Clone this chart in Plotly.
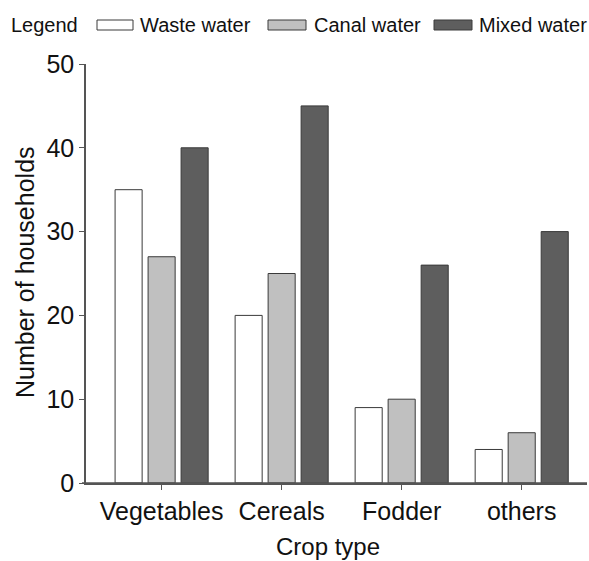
import plotly.graph_objects as go

categories = ["Vegetables", "Cereals", "Fodder", "others"]
series_names = ["Waste water", "Canal water", "Mixed water"]
waste_water = [35, 20, 9, 4]
canal_water = [27, 25, 10, 6]
mixed_water = [40, 45, 26, 30]
y_ticks = [0, 10, 20, 30, 40, 50]

series_values = [waste_water, canal_water, mixed_water]
fills = ["#ffffff", "#c0c0c0", "#5e5e5e"]
FONT = "Liberation Sans, Arial, sans-serif"

W, H = 589, 561
L, R, T, B = 86, 2, 64, 78
pw, ph = W - L - R, H - T - B


def px_x(x):
    return (x - L) / pw


def px_y(y):
    return (H - B - y) / ph


fig = go.Figure()
for name, vals, col in zip(series_names, series_values, fills):
    fig.add_trace(go.Bar(
        x=categories, y=vals, name=name,
        marker=dict(color=col, line=dict(color="#3a3a3a", width=1)),
        showlegend=False,
    ))

shapes = []
annotations = []
# legend
annotations.append(dict(text="Legend", x=px_x(9), y=px_y(25), xref="paper", yref="paper",
                        xanchor="left", yanchor="middle", showarrow=False,
                        font=dict(size=20, color="#111", family=FONT)))
box_x = [(97, 133), (268, 306), (434, 472)]
text_x = [138, 312, 477]
for (x0, x1), tx, name, col in zip(box_x, text_x, series_names, fills):
    shapes.append(dict(type="rect", xref="paper", yref="paper",
                       x0=px_x(x0), x1=px_x(x1), y0=px_y(30), y1=px_y(20),
                       fillcolor=col, line=dict(color="#3a3a3a", width=1)))
    annotations.append(dict(text=name, x=px_x(tx), y=px_y(25), xref="paper", yref="paper",
                            xanchor="left", yanchor="middle", showarrow=False,
                            font=dict(size=20, color="#111", family=FONT)))
# axis titles
annotations.append(dict(text="Crop type", x=px_x(328), y=px_y(546), xref="paper", yref="paper",
                        xanchor="center", yanchor="middle", showarrow=False,
                        font=dict(size=24, color="#111", family=FONT)))
annotations.append(dict(text="Number of households", x=px_x(25), y=px_y(272), xref="paper", yref="paper",
                        xanchor="center", yanchor="middle", showarrow=False, textangle=-90,
                        font=dict(size=25, color="#111", family=FONT)))
# x-axis baseline extending slightly left of the y-axis, as in the reference
shapes.append(dict(type="line", xref="paper", yref="paper", x0=px_x(82), x1=1, y0=0, y1=0,
                   line=dict(color="#555", width=1.5)))

fig.update_layout(
    width=W, height=H,
    margin=dict(l=L, r=R, t=T, b=B),
    paper_bgcolor="white", plot_bgcolor="white",
    barmode="group", bargap=0.175, bargroupgap=0.18,
    font=dict(family=FONT, color="#111"),
    shapes=shapes, annotations=annotations,
    xaxis=dict(range=[-0.63, 3.544], showline=True, linecolor="#555", linewidth=1.5,
               ticks="outside", ticklen=5, tickcolor="#555", showgrid=False, zeroline=False,
               tickfont=dict(size=25, color="#111")),
    yaxis=dict(range=[0, 50], tickvals=y_ticks, showline=True, linecolor="#555", linewidth=1.5,
               ticks="outside", ticklen=5, tickcolor="#555", showgrid=False, zeroline=False,
               tickfont=dict(size=25, color="#111")),
)

fig.write_html(
    "out.html",
    config={"displayModeBar": False},
    post_script="document.body.style.margin='0';document.body.style.overflow='hidden';",
)
